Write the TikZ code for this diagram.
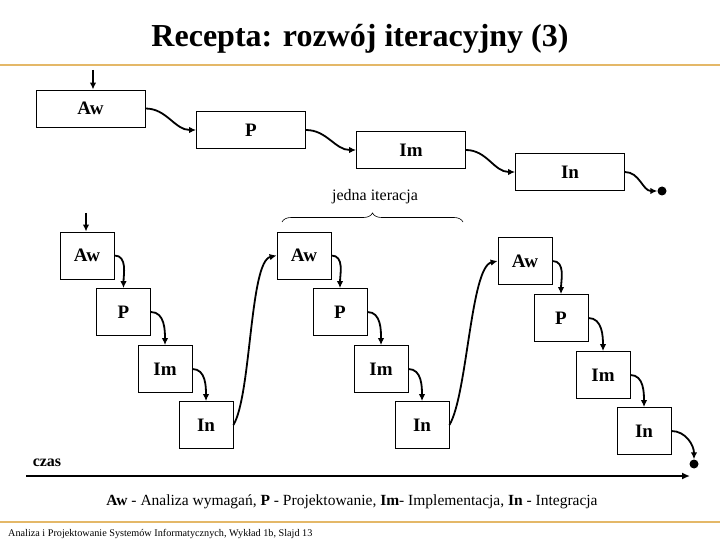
\documentclass[tikz,border=0pt]{standalone}
\usepackage{fontspec}
\setmainfont{Liberation Serif}
\usetikzlibrary{arrows.meta,decorations.pathreplacing}
\definecolor{zloty}{RGB}{228,184,104}
\tikzset{faza/.style={draw=black, line width=0.8pt, inner sep=0pt, font=\fontsize{19}{22}\selectfont\bfseries}}
\tikzset{fazadluga/.style={faza, minimum width=109pt, minimum height=37pt}}
\tikzset{fazakrotka/.style={faza, minimum width=54pt, minimum height=47pt}}
\tikzset{kropka/.style={circle, fill=black, inner sep=0pt, minimum size=9pt}}
\tikzset{strzalka/.style={draw=black, line width=1.8pt, -{Latex[length=7pt,width=6.5pt]}}}
\tikzset{every edge/.style={strzalka}}

\begin{document}
\begin{tikzpicture}[x=1pt, y=-1pt]
  \useasboundingbox (0,0) rectangle (720,540);

  \node (tytul) [anchor=base, font=\fontsize{32}{36}\selectfont\bfseries] at (360,47) {Recepta: rozwój iteracyjny (3)};
  \draw[zloty, line width=1.2pt] (0,65) -- (720,65);
  \draw[zloty, line width=1.2pt] (0,522) -- (720,522);

  \node (Aw) [fazadluga] at (90.5,108.5) {Aw};
  \node (P) [fazadluga] at (251,130) {P};
  \node (Im) [fazadluga] at (411,150) {Im};
  \node (In) [fazadluga] at (570,172) {In};
  \node (koniecA) [kropka] at (662,191) {};
  \coordinate (startA) at (93,70);

  \path (startA) edge (startA |- Aw.north);
  \path (Aw.east) edge[out=0, in=180] (P.west);
  \path (P.east) edge[out=0, in=180] (Im.west);
  \path (Im.east) edge[out=0, in=180] (In.west);
  \path (In.east) edge[out=0, in=180] (koniecA.west);

  \node (iteracja) [font=\fontsize{16}{19}\selectfont] at (375,197) {jedna iteracja};
  \draw[line width=0.6pt, decorate, decoration={brace, amplitude=9pt}] (282,222) -- (463,222);

  \node (Aw1) [fazakrotka] at (87,255.5) {Aw};
  \node (P1) [fazakrotka] at (123.5,312) {P};
  \node (Im1) [fazakrotka] at (165,369) {Im};
  \node (In1) [fazakrotka] at (206,425) {In};

  \node (Aw2) [fazakrotka] at (304,255.5) {Aw};
  \node (P2) [fazakrotka] at (340,312) {P};
  \node (Im2) [fazakrotka] at (381,369) {Im};
  \node (In2) [fazakrotka] at (422,425) {In};

  \node (Aw3) [fazakrotka] at (525,261) {Aw};
  \node (P3) [fazakrotka] at (561,318) {P};
  \node (Im3) [fazakrotka] at (603,375) {Im};
  \node (In3) [fazakrotka] at (644,431) {In};
  \node (koniecB) [kropka] at (694,464) {};
  \coordinate (startB) at (86,213);

  \path (startB) edge (startB |- Aw1.north);
  \path (Aw1.east) edge[out=0, in=90] (P1.north);
  \path (P1.east) edge[out=0, in=90] (Im1.north);
  \path (Im1.east) edge[out=0, in=90] (In1.north);
  \draw[strzalka] (In1.east) .. controls +(18,-30) and +(-27,6) .. (Aw2.west);

  \path (Aw2.east) edge[out=0, in=90] (P2.north);
  \path (P2.east) edge[out=0, in=90] (Im2.north);
  \path (Im2.east) edge[out=0, in=90] (In2.north);
  \draw[strzalka] (In2.east) .. controls +(18,-30) and +(-27,6) .. (Aw3.west);

  \path (Aw3.east) edge[out=0, in=90] (P3.north);
  \path (P3.east) edge[out=0, in=90] (Im3.north);
  \path (Im3.east) edge[out=0, in=90] (In3.north);
  \path (In3.east) edge[out=0, in=90] (koniecB.north);

  \coordinate (czas0) at (26,476);
  \coordinate (czas1) at (690,476);
  \draw[line width=2.6pt, -{Latex[length=8pt,width=7pt]}] (czas0) -- (czas1);
  \node (czas) [anchor=base, font=\fontsize{16}{19}\selectfont\bfseries] at (47,466) {czas};

  \node (legenda) [anchor=base, font=\fontsize{15.5}{18}\selectfont] at (352,505) {\textbf{Aw} - Analiza wymagań, \textbf{P} - Projektowanie, \textbf{Im}- Implementacja, \textbf{In} - Integracja};
  \node (stopka) [anchor=base west, inner sep=0pt, font=\fontsize{10.2}{12}\selectfont] at (8,536) {Analiza i Projektowanie Systemów Informatycznych, Wykład 1b, Slajd 13};
\end{tikzpicture}
\end{document}
